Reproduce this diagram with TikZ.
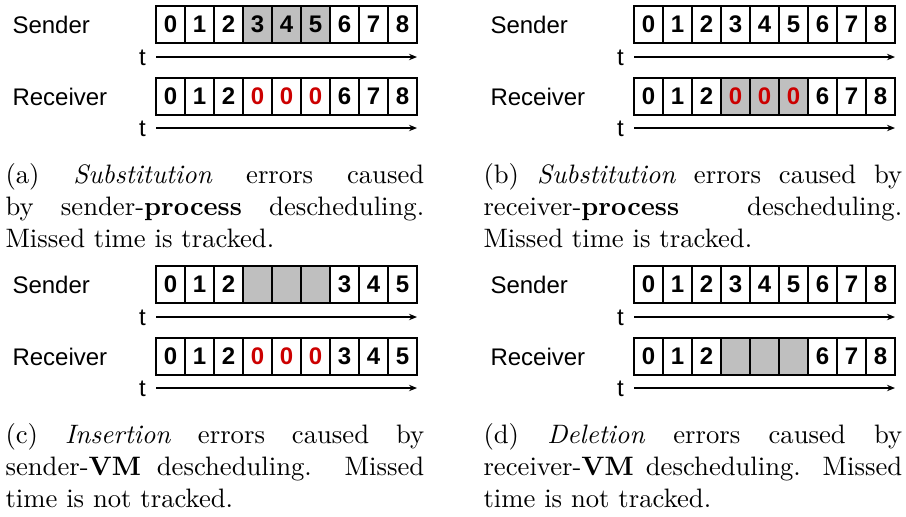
\documentclass[tikz,border=0pt]{standalone}
\usepackage{fontspec}
\newfontfamily\arialfont{Liberation Sans}
\usetikzlibrary{arrows.meta}
\definecolor{slot}{RGB}{191,191,191}
\definecolor{zero}{RGB}{204,0,0}
\tikzset{
  >={Stealth[length=3pt,width=2.4pt]},
  cell/.style={draw,line width=0.6pt,minimum width=10.875pt,minimum height=13.875pt,
    inner sep=0pt,outer sep=0pt,font=\arialfont\fontsize{9}{9}\selectfont\bfseries},
  c-n/.style={},
  c-g/.style={fill=slot},
  c-r/.style={text=zero},
  c-gr/.style={fill=slot,text=zero},
  role/.style={anchor=west,inner sep=0pt,font=\arialfont\fontsize{9}{9}\selectfont},
  tlbl/.style={inner sep=0pt,font=\arialfont\fontsize{9}{9}\selectfont},
  timeline/.style={->,line width=0.45pt},
  subcap/.style={anchor=base west,inner sep=0pt,text width=157pt,align=justify,font=\normalsize},
}
% one row of slots: name, left x, centre y, list of value/style
\newcommand\slotrow[4]{%
  \foreach \v/\s [count=\i from 0] in {#4}
    \node[cell,c-\s] (#1-\i) at ({#2+14.5+29*\i},#3) {\v};
}
% time axis under a row
\newcommand\timeaxis[3]{%
  \node[tlbl] (#1-t) at ({#2-13.5},{#3+1}) {t};
  \coordinate (#1-a) at (#2,#3);
  \coordinate (#1-b) at ({#2+261},#3);
  \draw[timeline] (#1-a) -- (#1-b);
}

\begin{document}
\begin{tikzpicture}[x=0.375pt,y=-0.375pt]
  \useasboundingbox (0,0) rectangle (906,516);
  % (a)
  \node[role] (a-snd) at (12,24.5) {Sender};
  \node[role] (a-rcv) at (12,96.5) {Receiver};
  \slotrow{a-s}{156}{24.5}{0/n,1/n,2/n,3/g,4/g,5/g,6/n,7/n,8/n}
  \slotrow{a-r}{156}{96.5}{0/n,1/n,2/n,0/r,0/r,0/r,6/n,7/n,8/n}
  \timeaxis{a-st}{156}{57}
  \timeaxis{a-rt}{156}{128}
  \node[subcap] (a-cap) at (5,183) {(a) \textit{Substitution} errors caused by sender-\textbf{process} descheduling. Missed time is tracked.};
  % (b)
  \node[role] (b-snd) at (490,24.5) {Sender};
  \node[role] (b-rcv) at (490,96.5) {Receiver};
  \slotrow{b-s}{634}{24.5}{0/n,1/n,2/n,3/n,4/n,5/n,6/n,7/n,8/n}
  \slotrow{b-r}{634}{96.5}{0/n,1/n,2/n,0/gr,0/gr,0/gr,6/n,7/n,8/n}
  \timeaxis{b-st}{634}{57}
  \timeaxis{b-rt}{634}{128}
  \node[subcap] (b-cap) at (483,183) {(b) \textit{Substitution} errors caused by receiver-\textbf{process} descheduling. Missed time is tracked.};
  % (c)
  \node[role] (c-snd) at (12,284.5) {Sender};
  \node[role] (c-rcv) at (12,356.5) {Receiver};
  \slotrow{c-s}{156}{284.5}{0/n,1/n,2/n,/g,/g,/g,3/n,4/n,5/n}
  \slotrow{c-r}{156}{356.5}{0/n,1/n,2/n,0/r,0/r,0/r,3/n,4/n,5/n}
  \timeaxis{c-st}{156}{317}
  \timeaxis{c-rt}{156}{388}
  \node[subcap] (c-cap) at (5,443) {(c) \textit{Insertion} errors caused by sender-\textbf{VM} descheduling. Missed time is not tracked.};
  % (d)
  \node[role] (d-snd) at (490,284.5) {Sender};
  \node[role] (d-rcv) at (490,356.5) {Receiver};
  \slotrow{d-s}{634}{284.5}{0/n,1/n,2/n,3/n,4/n,5/n,6/n,7/n,8/n}
  \slotrow{d-r}{634}{356.5}{0/n,1/n,2/n,/g,/g,/g,6/n,7/n,8/n}
  \timeaxis{d-st}{634}{317}
  \timeaxis{d-rt}{634}{388}
  \node[subcap] (d-cap) at (483,443) {(d) \textit{Deletion} errors caused by receiver-\textbf{VM} descheduling. Missed time is not tracked.};
\end{tikzpicture}
\end{document}
